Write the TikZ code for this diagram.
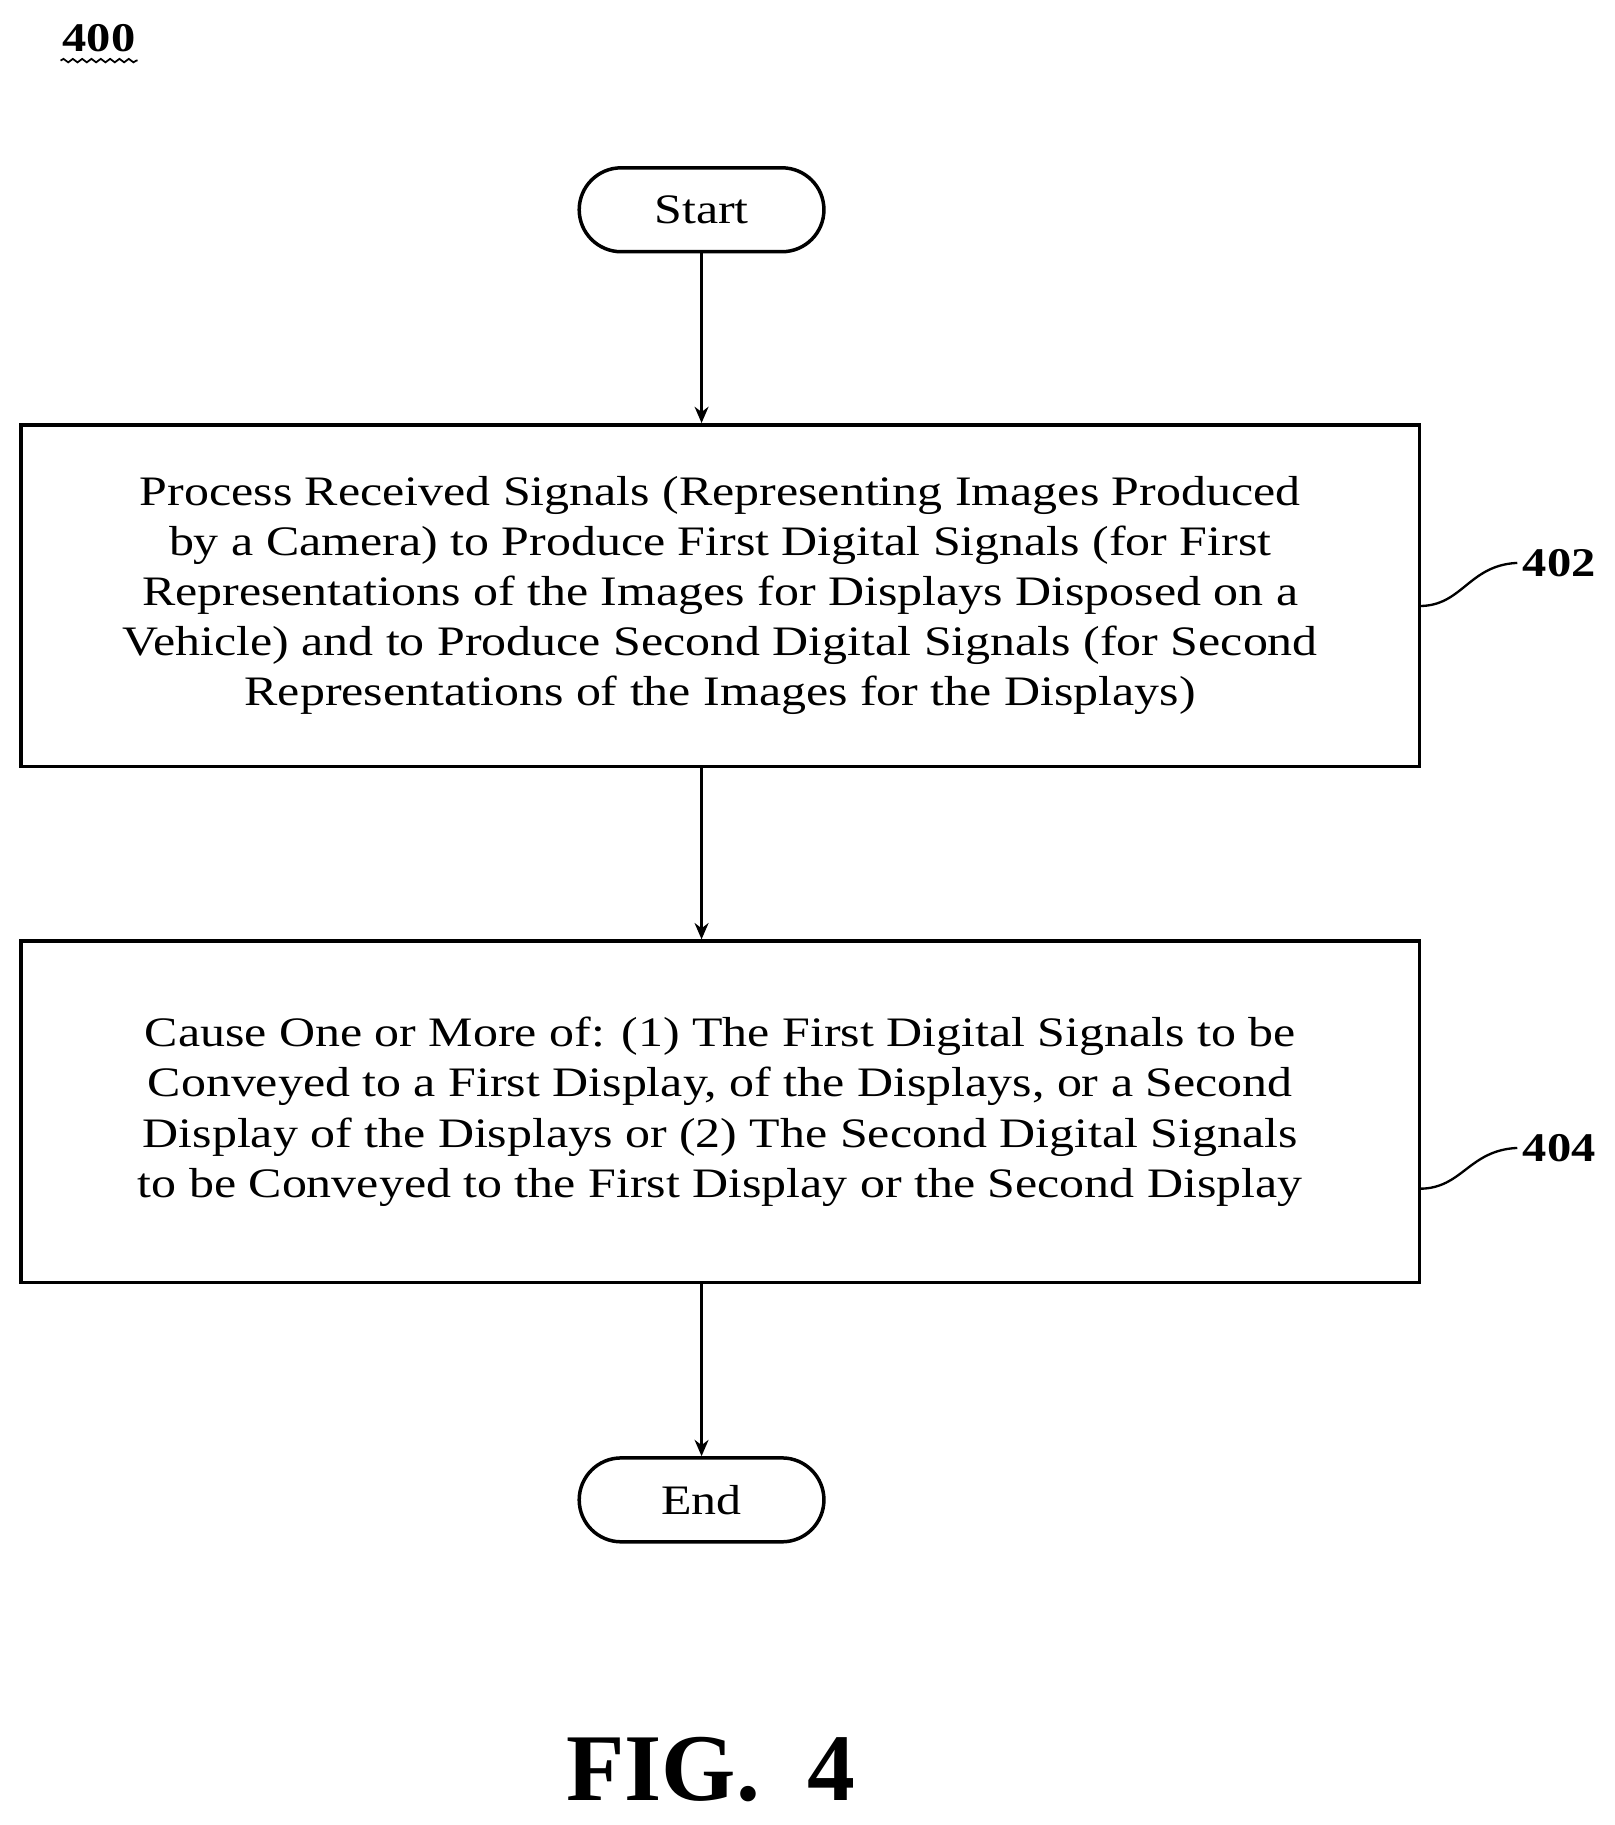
\documentclass[tikz,border=0pt]{standalone}
\usepackage{fontspec}
\setmainfont{Liberation Serif}
\newfontfamily\wide[FakeStretch=1.19]{Liberation Serif}
\usetikzlibrary{arrows.meta,decorations.pathmorphing}
\begin{document}
\begin{tikzpicture}[x=1pt,y=-1pt,
  line width=3pt,
  term/.style={draw,rounded corners=36pt,minimum width=210pt,minimum height=72pt,font=\wide\fontsize{36}{43}\selectfont},
  box/.style={draw,minimum width=1200pt,minimum height=293pt,align=center,font=\wide\fontsize{36}{43}\selectfont},
  arr/.style={-{Stealth[length=14pt,width=12pt]},line width=2pt},
  lbl/.style={font=\wide\fontsize{35}{40}\selectfont\bfseries},
  sq/.style={line width=2pt,decorate,decoration={snake,amplitude=3pt,segment length=26pt}}]
\useasboundingbox (0,0) rectangle (1385,1566);
\node[lbl] (n400) at (85,33) {400};
\draw[sq,line width=1.5pt,decoration={snake,amplitude=1.5pt,segment length=8pt}] (52,52) -- (118,52);
\node[term] (start) at (602,180) {Start};
\node[box] (b402) at (618,511) {Process Received Signals (Representing Images Produced\\by a Camera) to Produce First Digital Signals (for First\\Representations of the Images for Displays Disposed on a\\Vehicle) and to Produce Second Digital Signals (for Second\\Representations of the Images for the Displays)};
\node[box] (b404) at (618,954) {Cause One or More of: (1) The First Digital Signals to be\\Conveyed to a First Display, of the Displays, or a Second\\Display of the Displays or (2) The Second Digital Signals\\to be Conveyed to the First Display or the Second Display};
\node[term] (end) at (602,1287) {End};
\node[lbl] (l402) at (1338,483) {402};
\node[lbl] (l404) at (1338,985) {404};
\coordinate (c402) at (1218,520);
\coordinate (c404) at (1218,1020);
\draw[line width=2pt] (c402) .. controls (1255,520) and (1260,485) .. (l402.west);
\draw[line width=2pt] (c404) .. controls (1255,1020) and (1260,987) .. (l404.west);
\draw[arr] (start) -- (start|-b402.north);
\draw[arr] (start|-b402.south) -- (start|-b404.north);
\draw[arr] (start|-b404.south) -- (end);
\node[font=\fontsize{82}{92}\selectfont\bfseries] (fig) at (610,1518) {FIG.\ \ 4};
\end{tikzpicture}
\end{document}
